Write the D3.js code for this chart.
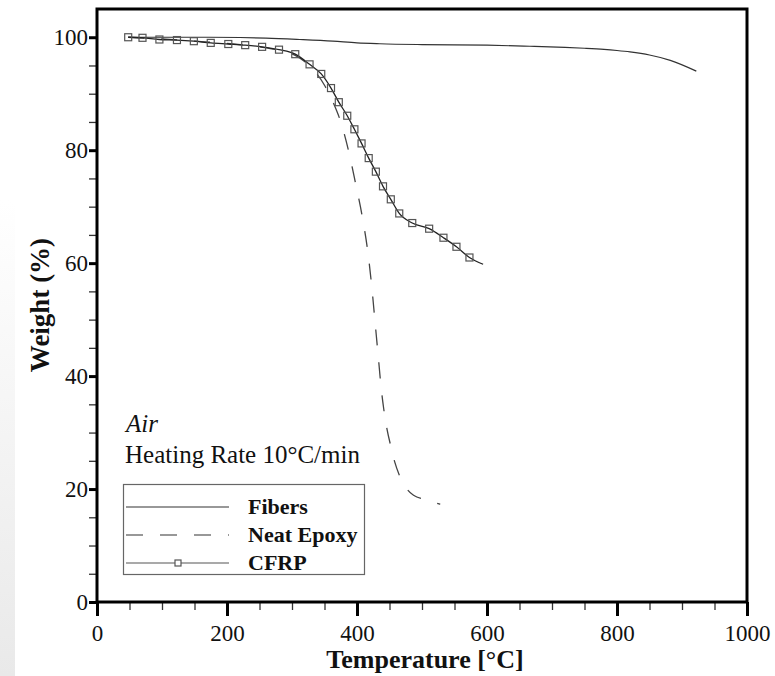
<!DOCTYPE html>
<html>
<head>
<meta charset="utf-8">
<script src="https://cdn.jsdelivr.net/npm/d3@7"></script>
<style>
  html, body { margin: 0; padding: 0; background: #fff; }
  svg { display: block; }
  svg text { font-family: 'Liberation Serif', 'Times New Roman', serif; }
</style>
</head>
<body>
<svg id="chart" width="775" height="676"></svg>
<script>
// temperature (°C), weight (%)
var fibers = [
  [48, 100], [100, 100], [150, 100], [220, 99.95], [260, 99.85], [312, 99.6],
  [363, 99.3], [400, 99.0], [435, 98.85], [500, 98.7], [600, 98.6], [666, 98.4],
  [720, 98.2], [750, 98.05], [780, 97.85], [800, 97.65], [820, 97.4], [850, 96.85],
  [882, 95.9], [922, 94.0]
]
var epoxy = [
  [48, 100], [100, 99.7], [150, 99.3], [200, 98.9], [250, 98.3], [280, 97.7],
  [305, 96.8], [330, 94.6], [350, 91.5], [365, 88], [375, 85], [388, 79.4],
  [398, 74], [408, 68.3], [417, 61.7], [423, 55.5], [428, 49.3], [433, 43.1],
  [437, 38.1], [441, 34.3], [446, 30.7], [452, 27.6], [458, 24.8], [465, 22.5],
  [475, 20.3], [487, 18.9], [507, 18.1], [528, 17.3]
]
var cfrp = [
  [48, 100], [70, 99.9], [96, 99.6], [123, 99.5], [149, 99.3], [175, 99.0],
  [202, 98.8], [228, 98.6], [254, 98.3], [280, 97.8], [305, 97.0], [327, 95.2],
  [345, 93.5], [360, 91.0], [372, 88.5], [385, 86.1], [396, 83.7], [407, 81.2],
  [418, 78.6], [429, 76.2], [440, 73.6], [452, 71.3], [465, 68.8], [485, 67.1],
  [511, 66.1], [533, 64.5], [553, 62.9], [573, 61.0], [594, 59.8]
]
var xTicks = [0, 200, 400, 600, 800, 1000]
var yTicks = [0, 20, 40, 60, 80, 100]
var legendLabels = ['Fibers', 'Neat Epoxy', 'CFRP']

var serif = "'Liberation Serif', 'Times New Roman', serif"
var svg = d3.select('#chart')

// faint grey band on the left edge of the scan
var grad = svg.append('defs').append('linearGradient')
  .attr('id', 'band').attr('x1', 0).attr('y1', 0).attr('x2', 0).attr('y2', 1)
grad.append('stop').attr('offset', '0%').attr('stop-color', '#fff')
grad.append('stop').attr('offset', '100%').attr('stop-color', '#e9e9e9')
svg.append('rect').attr('x', 0).attr('y', 200).attr('width', 15).attr('height', 476)
  .attr('fill', 'url(#band)')

var x = d3.scaleLinear().domain([0, 1000]).range([97, 747])
var y = d3.scaleLinear().domain([0, 105]).range([602, 9])

// minor ticks
svg.append('g')
  .attr('transform', 'translate(0,602)')
  .call(d3.axisBottom(x).tickValues(d3.range(0, 1001, 50)).tickSize(8).tickFormat(''))
  .call(g => g.select('.domain').remove())
  .call(g => g.selectAll('line').attr('stroke', '#333').attr('stroke-width', 1.3))
svg.append('g')
  .attr('transform', 'translate(97,0)')
  .call(d3.axisLeft(y).tickValues(d3.range(0, 101, 5)).tickSize(8).tickFormat(''))
  .call(g => g.select('.domain').remove())
  .call(g => g.selectAll('line').attr('stroke', '#333').attr('stroke-width', 1.3))

// major ticks
svg.append('g')
  .attr('transform', 'translate(0,602)')
  .call(d3.axisBottom(x).tickValues(xTicks).tickSize(14).tickFormat(d3.format('d')))
  .call(g => g.select('.domain').remove())
  .call(g => g.selectAll('line').attr('stroke', '#000').attr('stroke-width', 3))
  .call(g => g.selectAll('text').attr('font-size', 23).attr('fill', '#111')
    .style('font-family', serif).attr('dy', null).attr('y', 39))
svg.append('g')
  .attr('transform', 'translate(97,0)')
  .call(d3.axisLeft(y).tickValues(yTicks).tickSize(8).tickPadding(1))
  .call(g => g.select('.domain').remove())
  .call(g => g.selectAll('line').attr('stroke', '#000').attr('stroke-width', 3))
  .call(g => g.selectAll('text').attr('font-size', 23).attr('fill', '#111')
    .style('font-family', serif))

// frame
svg.append('rect')
  .attr('x', x(0)).attr('y', y(105))
  .attr('width', x(1000) - x(0)).attr('height', y(0) - y(105))
  .attr('fill', 'none').attr('stroke', '#000').attr('stroke-width', 3)

var line = d3.line()
  .x(d => x(d[0]))
  .y(d => y(d[1]))
  .curve(d3.curveMonotoneX)

svg.append('path').datum(fibers)
  .attr('d', line).attr('fill', 'none').attr('stroke', '#333').attr('stroke-width', 1.2)
svg.append('path').datum(epoxy)
  .attr('d', line).attr('fill', 'none').attr('stroke', '#444').attr('stroke-width', 1.3)
  .attr('stroke-dasharray', '16,17')
svg.append('path').datum(cfrp)
  .attr('d', line).attr('fill', 'none').attr('stroke', '#222').attr('stroke-width', 1.3)

var ms = 7
svg.append('g').selectAll('rect')
  .data(cfrp.slice(0, -1))
  .join('rect')
  .attr('x', d => x(d[0]) - ms / 2)
  .attr('y', d => y(d[1]) - ms / 2)
  .attr('width', ms).attr('height', ms)
  .attr('fill', 'none').attr('stroke', '#555').attr('stroke-width', 1.2)

// annotations
svg.append('text').attr('x', 126).attr('y', 432)
  .attr('font-size', 25).attr('font-style', 'italic').attr('fill', '#111').text('Air')
svg.append('text').attr('x', 125).attr('y', 463)
  .attr('font-size', 25).attr('fill', '#111').text('Heating Rate 10°C/min')

// legend
var lg = svg.append('g')
lg.append('rect').attr('x', 123.5).attr('y', 484.5).attr('width', 241).attr('height', 90)
  .attr('fill', '#fff').attr('stroke', '#666').attr('stroke-width', 1.2)
var rowY = [507, 535, 563]
var dashes = ['none', '17,17', 'none']
legendLabels.forEach(function (label, i) {
  lg.append('line').attr('x1', 126).attr('x2', 229).attr('y1', rowY[i]).attr('y2', rowY[i])
    .attr('stroke', i === 2 ? '#555' : '#333').attr('stroke-width', 1.2)
    .attr('stroke-dasharray', dashes[i])
  lg.append('text').attr('x', 248).attr('y', rowY[i] + 7)
    .attr('font-size', 22).attr('font-weight', 'bold').attr('fill', '#111').text(label)
})
lg.append('rect').attr('x', 178 - 3).attr('y', 563 - 3).attr('width', 6).attr('height', 6)
  .attr('fill', '#fff').attr('stroke', '#555').attr('stroke-width', 1.2)

// axis titles
svg.append('text').attr('x', 425).attr('y', 668).attr('text-anchor', 'middle')
  .attr('font-size', 26).attr('font-weight', 'bold').attr('fill', '#111')
  .text('Temperature [°C]')
svg.append('text').attr('transform', 'translate(49,305) rotate(-90)')
  .attr('text-anchor', 'middle')
  .attr('font-size', 27).attr('font-weight', 'bold').attr('fill', '#111')
  .text('Weight (%)')
</script>
</body>
</html>
